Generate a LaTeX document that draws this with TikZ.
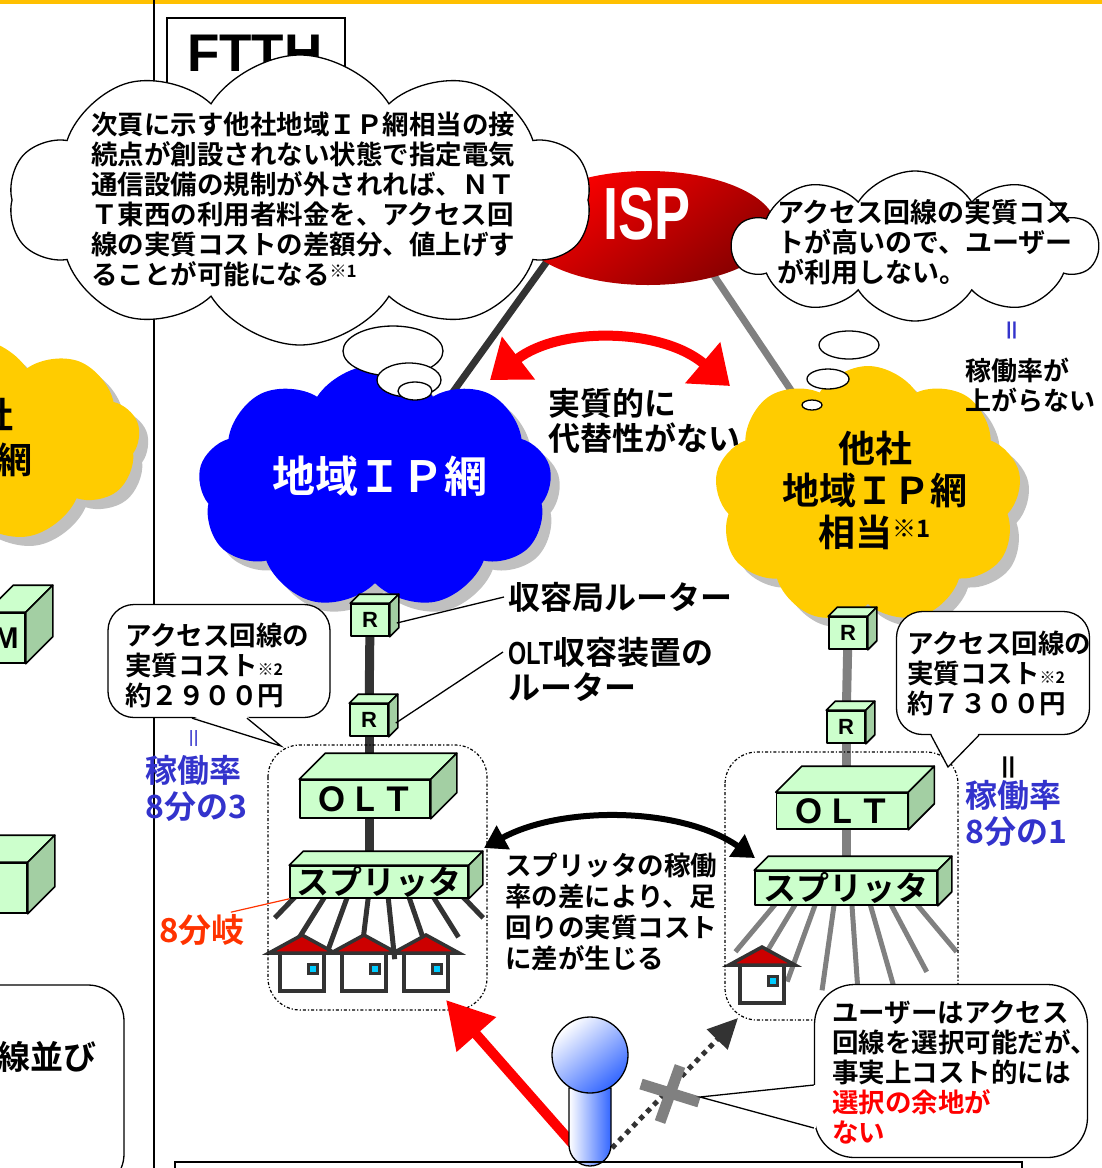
\documentclass[tikz,border=0pt]{standalone}
\usepackage{fontspec}
\setmainfont{Noto Sans CJK JP}[BoldFont={* Bold}]
\newfontfamily\latinfont{Liberation Sans}
\newfontfamily\narrowfont{Liberation Sans}[FakeStretch=0.73]
\usetikzlibrary{positioning,shapes.symbols,shapes.geometric,shadows,backgrounds,arrows.meta}

\definecolor{framegold}{HTML}{FFC000}
\definecolor{ipblue}{HTML}{0000FF}
\definecolor{netyellow}{HTML}{FFCC00}
\definecolor{shadowgray}{HTML}{C0C0C0}
\definecolor{boxfront}{HTML}{CCFFCC}
\definecolor{boxside}{HTML}{A3CFA3}
\definecolor{linedark}{HTML}{333333}
\definecolor{linegray}{HTML}{808080}
\definecolor{roofred}{HTML}{CC0000}
\definecolor{windowcyan}{HTML}{00CCFF}
\definecolor{rateblue}{HTML}{3333CC}
\definecolor{forkred}{HTML}{FF3300}
\definecolor{ispred}{HTML}{FF0000}
\definecolor{ispdark}{HTML}{880000}
\definecolor{userblue}{HTML}{3366FF}

\newcommand{\setsize}[2]{\fontsize{#1pt}{#2pt}\selectfont}

% top and side face of a green box, front face is node #1, depth #2
\newcommand{\boxfaces}[2]{%
  \filldraw[boxline,fill=boxfront] (#1.north west) -- ++(#2,-#2)
    -- ([shift={(#2,-#2)}]#1.north east) -- (#1.north east) -- cycle;
  \filldraw[boxline,fill=boxside] (#1.north east) -- ++(#2,-#2)
    -- ([shift={(#2,-#2)}]#1.south east) -- (#1.south east) -- cycle;
}

% subscriber house, roof apex at (#1,#2)
\newcommand{\subhouse}[2]{%
  \filldraw[houseline,fill=white] (#1-22,#2+18) rectangle (#1+22,#2+56);
  \filldraw[houseline,fill=roofred] (#1-33,#2+18) -- (#1,#2) -- (#1+33,#2+18) -- cycle;
  \filldraw[draw=linedark,line width=3pt,fill=windowcyan] (#1+6,#2+29) rectangle (#1+15,#2+38);
}

\begin{document}
\begin{tikzpicture}[x=1pt,y=-1pt,
  txt/.style={font=\bfseries,inner sep=0pt,align=left},
  boxline/.style={draw=black,line width=1.6pt,line join=round},
  boxface/.style={boxline,fill=boxfront,inner sep=0pt,font=\bfseries},
  houseline/.style={draw=linedark,line width=3.5pt},
  netcloud/.style={cloud,cloud puffs=9,cloud puff arc=115,cloud ignores aspect,draw=none,
    general shadow={fill=shadowgray,shadow xshift=9pt,shadow yshift=-9pt}},
  thought/.style={cloud,cloud puffs=10,cloud puff arc=115,cloud ignores aspect,
    draw=black,line width=1.3pt,fill=white},
  puff/.style={ellipse,draw=black,line width=1.3pt,fill=white,inner sep=0pt},
  bubble/.style={draw=black,line width=1.3pt,fill=white},
  zone/.style={draw=black,line width=1.2pt,dash dot,rounded corners=32pt},
  trunk/.style={line width=9pt},
  spoke/.style={line width=5pt},
  rate/.style={txt,text=rateblue,font=\bfseries\setsize{32}{36}},
]
\useasboundingbox (0,0) rectangle (1102,1168);
\clip (0,0) rectangle (1102,1168);

% page frame
\draw[framegold,line width=4pt] (0,1.5) -- (1102,1.5);
\draw[line width=1.5pt] (154,0) -- (154,1168);
\draw[line width=1.5pt] (167,160) |- (345,18) -- (345,160);
\node[font=\latinfont\bfseries\setsize{53}{53},anchor=north west,inner sep=0pt] (ftth) at (187,35) {FTTH};

% neighbouring column (cut off)
\node[netcloud,fill=netyellow,minimum width=340pt,minimum height=205pt] (otherW) at (-30,440) {};
\node[txt,anchor=east,font=\bfseries\setsize{36}{36}] (otherWa) at (14,415) {他社};
\node[txt,anchor=east,font=\bfseries\setsize{36}{36}] (otherWb) at (33,460) {地域ＩＰ網};
\node[boxface,minimum width=38pt,minimum height=50pt,font=\latinfont\bfseries\setsize{30}{30}] (boxW1) at (6,638) {M};
\boxfaces{boxW1}{27}
\node[boxface,minimum width=114pt,minimum height=50pt] (boxW2) at (-30,888) {};
\boxfaces{boxW2}{27}
\draw[bubble,rounded corners=36pt] (-100,985) rectangle (124,1190);
\node[txt,anchor=west,font=\bfseries\setsize{33}{33}] (lineW) at (-3,1057) {線並び};

% ISP and the two regional networks
\node[ellipse,minimum width=256pt,minimum height=114pt,top color=ispred,bottom color=ispdark,shading angle=35] (isp) at (648,228) {};
\node[font=\narrowfont\bfseries\setsize{74}{74},text=white,inner sep=0pt] (isptext) at (647,214) {ISP};
\node[netcloud,fill=ipblue,minimum width=354pt,minimum height=244pt] (ipnet) at (375,487) {};
\node[font=\bfseries\setsize{43}{43},text=white,inner sep=0pt] (ipnettext) at (380,476) {地域ＩＰ網};
\node[netcloud,fill=netyellow,minimum width=307pt,minimum height=258pt] (othernet) at (868,495) {};
\node[txt,align=center,font=\bfseries\setsize{37}{42}] (othertext) at (875,490)
  {他社\\地域ＩＰ網\\相当\raisebox{9pt}{\setsize{24}{24}※1}};

\begin{pgfonlayer}{background}
  \draw[linedark,line width=7pt] ([shift={(-77,0)}]isp.center) -- ([shift={(65,-77)}]ipnet.center);
  \draw[linegray,line width=7pt] ([shift={(34,0)}]isp.center) -- ([shift={(-57,-75)}]othernet.center);
\end{pgfonlayer}

% thought clouds
\node[thought,minimum width=582pt,minimum height=290pt] (remark) at (300,200) {};
\node[puff,minimum width=100pt,minimum height=50pt] (remarkA) at (393,351) {};
\node[puff,minimum width=64pt,minimum height=34pt] (remarkB) at (409,380) {};
\node[puff,minimum width=34pt,minimum height=18pt] (remarkC) at (415,391) {};
\node[txt,anchor=north west,font=\bfseries\setsize{26.5}{30}] (remarktext) at (91,112)
  {次頁に示す他社地域ＩＰ網相当の接\\
   続点が創設されない状態で指定電気\\
   通信設備の規制が外されれば、ＮＴ\\
   Ｔ東西の利用者料金を、アクセス回\\
   線の実質コストの差額分、値上げす\\
   ることが可能になる\raisebox{7pt}{\setsize{17}{17}※1}};
\node[thought,minimum width=365pt,minimum height=150pt] (nouse) at (915,246) {};
\node[puff,minimum width=60pt,minimum height=28pt] (nouseA) at (849,345) {};
\node[puff,minimum width=42pt,minimum height=20pt] (nouseB) at (828,379) {};
\node[puff,minimum width=20pt,minimum height=10pt] (nouseC) at (812,405) {};
\node[txt,anchor=north west,font=\bfseries\setsize{27}{30}] (nousetext) at (777,199)
  {アクセス回線の実質コス\\トが高いので、ユーザー\\が利用しない。};

% no substitute between the networks
\coordinate (subL) at (490,380);
\coordinate (subR) at (730,386);
\draw[red,line width=10pt,{Triangle[length=36pt,width=52pt]}-{Triangle[length=36pt,width=52pt]}]
  (subL) .. controls (560,326) and (662,328) .. (subR);
\node[txt,anchor=north west,font=\bfseries\setsize{32}{35}] (subtext) at (548,388) {実質的に\\代替性がない};
\node[font=\bfseries\setsize{24}{24},text=rateblue,rotate=90,inner sep=0pt] (eqA) at (1015,330) {＝};
\node[txt,anchor=north west,font=\bfseries\setsize{26}{30}] (lowrate) at (965,358) {稼働率が\\上がらない};

% access line, own network
\node[boxface,minimum width=38pt,minimum height=32pt,font=\latinfont\bfseries\setsize{22}{22}] (rtL1) at (370,620) {R};
\node[boxface,minimum width=38pt,minimum height=32pt,font=\latinfont\bfseries\setsize{22}{22}] (rtL2) at (369,720) {R};
\node[boxface,minimum width=130pt,minimum height=38pt,font=\bfseries\setsize{33}{33}] (oltL) at (365,799) {ＯＬＴ};
\node[boxface,minimum width=178pt,minimum height=32pt,font=\bfseries\setsize{33}{33}] (splitL) at (379,882) {スプリッタ};
\begin{pgfonlayer}{background}
  \draw[linedark,trunk] (rtL1) -- (rtL2);
  \draw[linedark,trunk] (rtL2) -- (rtL2 |- oltL.north);
  \draw[linedark,trunk] (oltL.south -| rtL2) -- (splitL.north -| rtL2);
  \begin{scope}
    \clip (200,898) rectangle (560,1010);
    \foreach \a in {46,58,71,84,97,110,122,134}
      \draw[linedark,spoke] ([shift={(0,-72)}]splitL.center) -- ++(\a:150);
  \end{scope}
\end{pgfonlayer}
\boxfaces{rtL1}{9}
\boxfaces{rtL2}{9}
\boxfaces{oltL}{26}
\boxfaces{splitL}{14}
\subhouse{302}{935}
\subhouse{364}{935}
\subhouse{426}{935}
\draw[zone] (268,745) rectangle (487,1010);

% access line, other network
\node[boxface,minimum width=38pt,minimum height=32pt,font=\latinfont\bfseries\setsize{22}{22}] (rtR1) at (848,633) {R};
\node[boxface,minimum width=38pt,minimum height=32pt,font=\latinfont\bfseries\setsize{22}{22}] (rtR2) at (846,727) {R};
\node[boxface,minimum width=131pt,minimum height=36pt,font=\bfseries\setsize{33}{33}] (oltR) at (842,811) {ＯＬＴ};
\node[boxface,minimum width=182pt,minimum height=34pt,font=\bfseries\setsize{33}{33}] (splitR) at (846,888) {スプリッタ};
\begin{pgfonlayer}{background}
  \draw[linegray,trunk] (rtR1) -- (rtR2);
  \draw[linegray,trunk] (rtR2) -- (rtR2 |- oltR.north);
  \draw[linegray,trunk] (oltR.south -| rtR2) -- (splitR.north -| rtR2);
  \begin{scope}
    \clip (680,905) rectangle (1000,1030);
    \foreach \a in {50,62,74,86,98,110,121,130}
      \draw[linegray,spoke] ([shift={(0,-68)}]splitR.center) -- ++(\a:172);
  \end{scope}
\end{pgfonlayer}
\boxfaces{rtR1}{9}
\boxfaces{rtR2}{9}
\boxfaces{oltR}{26}
\boxfaces{splitR}{14}
\subhouse{762}{947}
\draw[zone] (725,752) rectangle (958,1020);

% router labels
\node[txt,anchor=west,font=\bfseries\setsize{32}{32}] (hubrouter) at (508,597) {収容局ルーター};
\node[txt,anchor=north west,font=\bfseries\setsize{32}{35}] (oltrouter) at (508,637)
  {{\narrowfont OLT}収容装置の\\ルーター};
\draw[line width=1.3pt] ([shift={(7,3)}]rtL1.east) -- ([shift={(-4,0)}]hubrouter.west);
\draw[line width=1.3pt] ([shift={(7,3)}]rtL2.east) -- ([shift={(-5,15)}]oltrouter.north west);

% access line cost
\node[bubble,rounded corners=26pt,minimum width=222pt,minimum height=113pt] (costL) at (219,661) {};
\coordinate (tipL) at (281,746);
\fill[white] ([shift={(-27,-2)}]costL.south) -- (tipL) -- ([shift={(28,-2)}]costL.south) -- cycle;
\draw[line width=1.3pt] ([shift={(-27,0)}]costL.south) -- (tipL) -- ([shift={(28,0)}]costL.south);
\node[txt,anchor=north west,font=\bfseries\setsize{26.5}{30}] (costLtext) at (125,623)
  {アクセス回線の\\実質コスト{\setsize{16}{16}※2}\\約２９００円};
\node[bubble,rounded corners=26pt,minimum width=193pt,minimum height=123pt] (costR) at (993,673) {};
\coordinate (tipR) at (948,767);
\fill[white] ([shift={(-62,-2)}]costR.south) -- (tipR) -- ([shift={(-14,-2)}]costR.south) -- cycle;
\draw[line width=1.3pt] ([shift={(-62,0)}]costR.south) -- (tipR) -- ([shift={(-14,0)}]costR.south);
\node[txt,anchor=north west,font=\bfseries\setsize{26.5}{30}] (costRtext) at (907,631)
  {アクセス回線の\\実質コスト{\setsize{16}{16}※2}\\約７３００円};

% utilisation
\node[font=\setsize{22}{22},text=rateblue,rotate=90,inner sep=0pt] (eqL) at (197,738) {＝};
\node[rate,anchor=north west] (rateL) at (145,755) {稼働率\\8分の3};
\node[font=\bfseries\setsize{30}{30},rotate=90,inner sep=0pt] (eqR) at (1012,767) {＝};
\node[rate,anchor=north west] (rateR) at (965,780) {稼働率\\8分の1};
\node[txt,anchor=west,text=forkred,font=\bfseries\setsize{33}{33}] (fork) at (159,930) {8分岐};
\draw[forkred,line width=1.2pt] ([shift={(-14,-2)}]fork.north east) -- (splitL.south west);

% splitter utilisation gap
\coordinate (gapL) at (484,848);
\coordinate (gapR) at (755,858);
\draw[black,line width=6pt,{Triangle[length=22pt,width=26pt]}-{Triangle[length=22pt,width=26pt]}]
  (gapL) .. controls (560,806) and (680,806) .. (gapR);
\node[txt,anchor=north west,font=\bfseries\setsize{26.5}{31}] (gaptext) at (505,853)
  {スプリッタの稼働\\率の差により、足\\回りの実質コスト\\に差が生じる};

% the user and the choice of access line
\coordinate (feetL) at (578,1150);
\coordinate (feetR) at (612,1148);
\coordinate (homeL) at (446,1000);
\coordinate (homeR) at (738,1018);
\draw[red,line width=10pt,-{Triangle[length=46pt,width=50pt]}] (feetL) -- (homeL);
\draw[linedark,line width=5pt,dash pattern=on 5pt off 5pt,-{Triangle[length=30pt,width=28pt]}] (feetR) -- (homeR);
\draw[linegray,line width=11pt] (641,1084) -- (699,1102);
\draw[linegray,line width=11pt] (680,1066) -- (660,1122);
\shade[left color=white,right color=userblue,draw=black,line width=1.3pt]
  (569,1088) -- (569,1145) arc[start angle=180,end angle=0,radius=21] -- (611,1088) -- cycle;
\node[circle,minimum size=76pt,draw=black,line width=1.3pt,top color=white,bottom color=userblue,shading angle=40] (head) at (590,1055) {};

\node[bubble,rounded corners=40pt,minimum width=273pt,minimum height=173pt] (userbox) at (951,1071) {};
\coordinate (tipU) at (700,1097);
\fill[white] ([shift={(2,14)}]userbox.west) -- (tipU) -- ([shift={(2,57)}]userbox.west) -- cycle;
\draw[line width=1.3pt] ([shift={(0,14)}]userbox.west) -- (tipU) -- ([shift={(0,57)}]userbox.west);
\node[txt,anchor=north west,font=\bfseries\setsize{26.5}{30}] (usertext) at (832,1000)
  {ユーザーはアクセス\\回線を選択可能だが、\\事実上コスト的には\\\textcolor{red}{選択の余地が}\\\textcolor{red}{ない}};

\draw[line width=1.6pt] (175,1180) -- (175,1162) -- (1022,1162) -- (1022,1180);
\end{tikzpicture}
\end{document}
